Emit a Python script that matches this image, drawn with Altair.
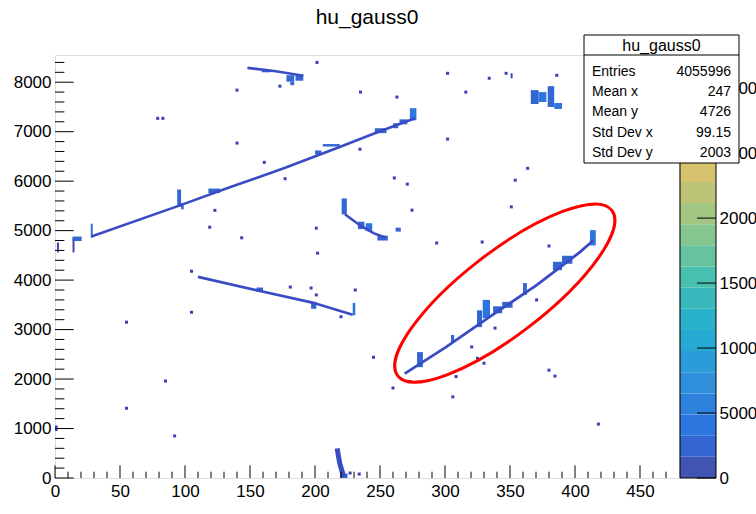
import altair as alt
import pandas as pd

# ---------------- data ----------------
# track polylines (x, y in histogram units)
T1_X = [28, 95, 135, 176, 217, 247, 277]
T1_Y = [4880, 5500, 5880, 6260, 6670, 6980, 7270]
T2_X = [110, 156, 198, 229]
T2_Y = [4065, 3790, 3545, 3300]
T3_X = [223, 235, 245, 254]
T3_Y = [5330, 5100, 4950, 4860]
T4_X = [148, 170, 191]
T4_Y = [8290, 8220, 8130]
T5_X = [269, 301, 334.6, 370.5, 404, 414]
T5_Y = [2110, 2650, 3260, 3900, 4570, 4800]
T6_X = [217, 219, 222]
T6_Y = [600, 300, 30]

# filled blobs / spikes: x0, x1, y0, y1, colour level
BLOB_X0 = [1.5, 13.5, 13.5, 27.5, 94, 97, 118, 200, 206, 246, 260, 265, 273,
           155, 197, 229,
           220.5, 233, 239, 248, 262,
           178, 185, 181, 159,
           278.5, 304.6, 324.6, 329, 337, 344, 360, 383, 390, 411.5,
           366, 372, 379, 384, 350.5, 0, 219.5]
BLOB_X1 = [3, 15, 20.5, 29, 97, 99, 127, 205, 219, 255, 264, 271, 278,
           160, 201, 231,
           224.5, 238, 244, 256, 266,
           184, 191, 184, 166,
           283, 307, 328.5, 334.6, 344, 352, 363, 390, 398, 416,
           372, 378, 384, 390, 352, 2, 225]
BLOB_Y0 = [4560, 4560, 4790, 4860, 5480, 5430, 5760, 6540, 6700, 6970, 7070, 7150, 7230,
           3760, 3420, 3290,
           5330, 5030, 4990, 4800, 4980,
           8010, 8030, 7940, 8200,
           2240, 2750, 3050, 3230, 3330, 3440, 3700, 4200, 4330, 4700,
           7560, 7600, 7500, 7460, 8080, 950, 0]
BLOB_Y1 = [4760, 4860, 4880, 5140, 5830, 5560, 5850, 6620, 6750, 7070, 7170, 7250, 7475,
           3850, 3560, 3540,
           5650, 5180, 5150, 4900, 5060,
           8140, 8160, 8010, 8250,
           2545, 2890, 3390, 3600, 3470, 3560, 3940, 4370, 4490, 5010,
           7840, 7800, 7920, 7580, 8180, 1060, 90]
BLOB_LEVEL = [0, 0, 1, 1, 1, 1, 1, 1, 1, 1, 1, 1, 2,
              1, 1, 2,
              1, 1, 2, 1, 1,
              1, 1, 1, 1,
              1, 1, 1, 2, 1, 1, 1, 1, 1, 2,
              1, 2, 1, 2, 0, 0, 1]

# isolated single bins
DOT_X = [79, 83, 140, 161, 123, 119, 143.6, 177, 201, 202, 234.6, 261, 271, 274.6,
         105, 105, 181, 197, 201, 231, 220, 173, 201.5, 140, 235, 263, 302, 334, 347,
         386, 316, 302, 363.6, 354, 351, 293.6, 328.6, 380, 370.5, 338.5, 320.5, 330,
         380, 384.6, 308.5, 273, 260, 55, 85, 55, 92, 306, 325, 418, 245, 227, 234]
DOT_Y = [7270, 7270, 6770, 6380, 5410, 5070, 4855, 6050, 5050, 4545, 6646, 6065, 5940, 5414,
         4180, 3350, 3860, 3840, 3700, 3800, 3260, 7920, 8400, 7840, 7800, 7700, 8180, 8080, 8180,
         8140, 7800, 6850, 6260, 6020, 5480, 4750, 4770, 4690, 3600, 3030, 2650, 2320,
         2180, 2060, 2050, 1950, 1820, 3150, 1960, 1410, 850, 1640, 2420, 1090, 2440, 100, 80]

# annotation ellipse centre (histogram units)
ELLIPSE_X = [346]
ELLIPSE_Y = [3737]

# axis / stats box / palette texts
X_TICK_LABELS = [0, 50, 100, 150, 200, 250, 300, 350, 400, 450]
Y_TICK_LABELS = [0, 1000, 2000, 3000, 4000, 5000, 6000, 7000, 8000]
Z_TICK_LABELS = [0, 5000, 10000, 15000, 20000, 25000, 30000]
STAT_NAMES = ["Entries", "Mean x", "Mean y", "Std Dev x", "Std Dev y"]
STAT_VALUES = ["4055996", "247", "4726", "99.15", "2003"]
TITLE = "hu_gauss0"
X_MAX = 480
Y_MAX = 8550
Z_MAX = 32550
N_CONTOURS = 20

# ---------------- styling helpers ----------------
FONT = "Liberation Sans"
W, H = 624, 423

# ROOT kBird palette
_st = [0.0, 0.125, 0.25, 0.375, 0.5, 0.625, 0.75, 0.875, 1.0]
_r = [0.2082, 0.0592, 0.0780, 0.0232, 0.1802, 0.5301, 0.8186, 0.9956, 0.9764]
_g = [0.1664, 0.3599, 0.5041, 0.6419, 0.7178, 0.7492, 0.7328, 0.7862, 0.9832]
_b = [0.5293, 0.8684, 0.8385, 0.7914, 0.6425, 0.4662, 0.3499, 0.1968, 0.0539]


def bird(f, lift=0.0):
    for k in range(len(_st) - 1):
        if f <= _st[k + 1]:
            t = (f - _st[k]) / (_st[k + 1] - _st[k])
            c = [a + (b - a) * t for a, b in ((_r[k], _r[k + 1]), (_g[k], _g[k + 1]), (_b[k], _b[k + 1]))]
            c = [v * (1 - lift) + lift for v in c]
            return "#%02x%02x%02x" % tuple(int(round(v * 255)) for v in c)
    return "#f9fb0e"


LEVEL_COLORS = [bird(int((i + 0.99) * 255 / N_CONTOURS) / 254.0, 0.12) for i in range(N_CONTOURS)]
TRACK_COLOR = "#3a4cc4"
DOT_COLOR = "#3a40b4"

# ---------------- tables ----------------
tracks = []
for tid, (xs, ys, w) in enumerate([(T1_X, T1_Y, 2.6), (T2_X, T2_Y, 2.6), (T3_X, T3_Y, 2.6),
                                   (T4_X, T4_Y, 2.6), (T5_X, T5_Y, 2.8), (T6_X, T6_Y, 5)]):
    for i, (x, y) in enumerate(zip(xs, ys)):
        tracks.append({"t": tid, "i": i, "x": x, "y": y, "w": w})
tracks = pd.DataFrame(tracks)

blobs = pd.DataFrame({"x0": BLOB_X0, "x1": BLOB_X1, "y0": BLOB_Y0, "y1": BLOB_Y1,
                      "c": [LEVEL_COLORS[l] if l > 0 else DOT_COLOR for l in BLOB_LEVEL]})
dots = pd.DataFrame({"x": DOT_X, "y": DOT_Y})

xs = alt.Scale(domain=[0, X_MAX], nice=False, zero=False)
ys = alt.Scale(domain=[0, Y_MAX], nice=False, zero=False)

x_axis = alt.Axis(values=X_TICK_LABELS, ticks=False, domain=False, grid=False, title=None,
                  labelFont=FONT, labelFontSize=17, labelColor="black", labelPadding=5,
                  labelFlush=False, format="d")
y_axis = alt.Axis(values=Y_TICK_LABELS, ticks=False, domain=False, grid=False, title=None,
                  labelFont=FONT, labelFontSize=17, labelColor="black", labelPadding=4,
                  labelFlush=False, format="d")

blob_layer = alt.Chart(blobs).mark_rect().encode(
    x=alt.X("x0:Q", scale=xs, axis=x_axis), x2="x1:Q",
    y=alt.Y("y0:Q", scale=ys, axis=y_axis), y2="y1:Q",
    color=alt.Color("c:N", scale=None))

track_layer = alt.Chart(tracks).mark_line(strokeCap="butt", color=TRACK_COLOR).encode(
    x=alt.X("x:Q", scale=xs), y=alt.Y("y:Q", scale=ys),
    detail="t:N", order="i:Q",
    strokeWidth=alt.StrokeWidth("w:Q", scale=None))

dot_layer = alt.Chart(dots).mark_square(size=9, opacity=1, color=DOT_COLOR).encode(
    x=alt.X("x:Q", scale=xs), y=alt.Y("y:Q", scale=ys))

ellipse = alt.Chart(pd.DataFrame({"x": ELLIPSE_X, "y": ELLIPSE_Y})).mark_point(
    shape="M -1 0 A 1 0.306 0 1 1 1 0 A 1 0.306 0 1 1 -1 0 Z",
    size=73224, angle=322.3, filled=False, stroke="#ff0000", strokeWidth=3, opacity=1
).encode(x=alt.X("x:Q", scale=xs), y=alt.Y("y:Q", scale=ys))

# inward ticks (ROOT style)
xt = pd.DataFrame({"v": list(range(0, X_MAX, 10))})
xt_major = alt.Chart(xt[xt["v"] % 50 == 0]).mark_rule(color="black").encode(
    x=alt.X("v:Q", scale=xs), y=alt.value(H), y2=alt.value(H - 12.7))
xt_minor = alt.Chart(xt[xt["v"] % 50 != 0]).mark_rule(color="black").encode(
    x=alt.X("v:Q", scale=xs), y=alt.value(H), y2=alt.value(H - 6.3))

yt = pd.DataFrame({"v": list(range(0, Y_MAX, 200))})
yt_major = alt.Chart(yt[yt["v"] % 1000 == 0]).mark_rule(color="black").encode(
    y=alt.Y("v:Q", scale=ys), x=alt.value(0), x2=alt.value(18.7))
yt_minor = alt.Chart(yt[yt["v"] % 1000 != 0]).mark_rule(color="black").encode(
    y=alt.Y("v:Q", scale=ys), x=alt.value(0), x2=alt.value(9.4))

title_layer = alt.Chart(pd.DataFrame({"t": [TITLE]})).mark_text(
    font=FONT, fontSize=21, color="black", align="center", baseline="middle").encode(
    text="t:N", x=alt.value(312), y=alt.value(-37))

main = alt.layer(blob_layer, track_layer, dot_layer, ellipse,
                 xt_major, xt_minor, yt_major, yt_minor, title_layer)

# ---------------- palette (colour bar) ----------------
band = pd.DataFrame({"lo": [i * Z_MAX / N_CONTOURS for i in range(N_CONTOURS)],
                     "hi": [(i + 1) * Z_MAX / N_CONTOURS for i in range(N_CONTOURS)],
                     "c": LEVEL_COLORS})
zs = alt.Scale(domain=[0, Z_MAX], nice=False, zero=False)
z_axis = alt.Axis(values=Z_TICK_LABELS, orient="right", offset=37, ticks=False, domain=False,
                  grid=False, title=None, labelFont=FONT, labelFontSize=17, labelColor="black",
                  labelPadding=3, labelFlush=False, format="d")
bar = alt.Chart(band).mark_rect().encode(
    y=alt.Y("lo:Q", scale=zs, axis=z_axis), y2="hi:Q",
    x=alt.value(W + 1), x2=alt.value(W + 37),
    color=alt.Color("c:N", scale=None))
bar_frame = alt.Chart(pd.DataFrame({"a": [0]})).mark_rect(
    fill=None, stroke="black", strokeWidth=1).encode(
    x=alt.value(W + 1), x2=alt.value(W + 37), y=alt.value(0), y2=alt.value(H))
zt = pd.DataFrame({"v": Z_TICK_LABELS})
bar_ticks = alt.Chart(zt).mark_rule(color="black").encode(
    y=alt.Y("v:Q", scale=zs), x=alt.value(W + 37 - 19), x2=alt.value(W + 37))

# ---------------- stats box ----------------
BX0, BX1, BY0, BY1 = 529, 684, -20, 108
box = alt.Chart(pd.DataFrame({"a": [0]})).mark_rect(
    fill="white", stroke="black", strokeWidth=1).encode(
    x=alt.value(BX0), x2=alt.value(BX1), y=alt.value(BY0), y2=alt.value(BY1))
box_sep = alt.Chart(pd.DataFrame({"a": [0]})).mark_rule(color="black").encode(
    x=alt.value(BX0), x2=alt.value(BX1), y=alt.value(0))
box_title = alt.Chart(pd.DataFrame({"t": [TITLE]})).mark_text(
    font=FONT, fontSize=16, color="black", align="center", baseline="middle").encode(
    text="t:N", x=alt.value((BX0 + BX1) / 2), y=alt.value(-9))
row_y = [16.5, 36.5, 56.5, 77.5, 97.5]
stats = pd.DataFrame({"n": STAT_NAMES, "v": STAT_VALUES, "ry": row_y})
stat_names = alt.Chart(stats).mark_text(
    font=FONT, fontSize=14, color="black", align="left", baseline="middle").encode(
    text="n:N", x=alt.value(BX0 + 8), y=alt.Y("ry:Q", scale=None))
stat_vals = alt.Chart(stats).mark_text(
    font=FONT, fontSize=14, color="black", align="right", baseline="middle").encode(
    text="v:N", x=alt.value(BX1 - 8), y=alt.Y("ry:Q", scale=None))

side = alt.layer(bar, bar_frame, bar_ticks, box, box_sep, box_title, stat_names, stat_vals)

chart = alt.layer(main, side).resolve_scale(y="independent").properties(
    width=W, height=H,
    padding={"left": 55, "top": 55, "right": 77, "bottom": 36},
    autosize=alt.AutoSizeParams(type="none"),
).configure_view(stroke="black", strokeWidth=1).configure(background="white")

chart.save("out.html", embed_options={"renderer": "svg", "actions": False})
